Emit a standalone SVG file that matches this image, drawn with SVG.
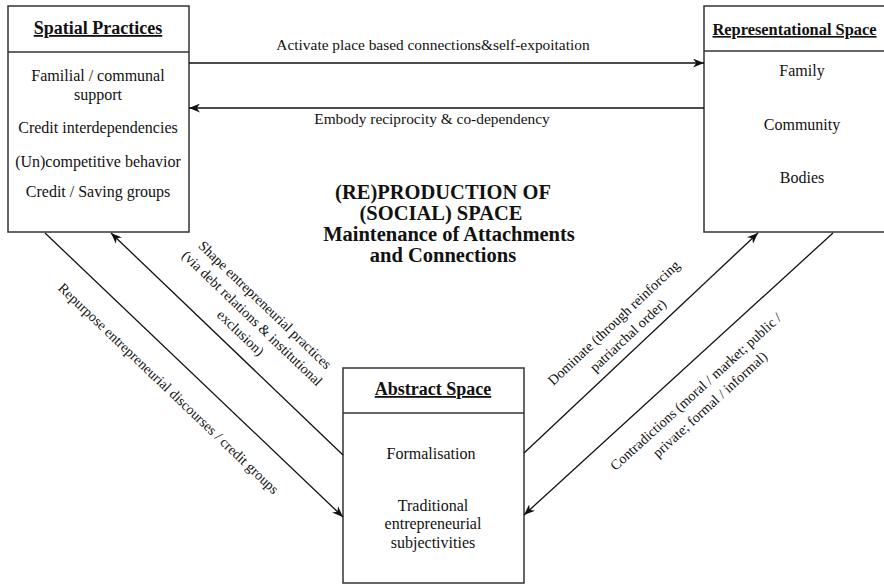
<svg xmlns="http://www.w3.org/2000/svg" width="884" height="585" viewBox="0 0 884 585">
<defs>
<marker id="arr" viewBox="0 0 10 8" markerWidth="11" markerHeight="9" refX="10" refY="4" orient="auto" markerUnits="userSpaceOnUse">
<path d="M0,0 L10,4 L0,8 L3,4 Z" fill="#111"/>
</marker>
</defs>
<style>
text{font-family:"Liberation Serif","Times New Roman",serif;fill:#111}
.box{fill:#fff;stroke:#333;stroke-width:1.5}
.div{stroke:#333;stroke-width:1.5}
.title{font-weight:bold;text-decoration:underline;text-anchor:middle}
.item{font-size:16px;text-anchor:middle}
.lbl{font-size:15.4px;text-anchor:middle}
.dlbl{font-size:14.2px;text-anchor:middle}
.conn{stroke:#111;stroke-width:1.3;fill:none;marker-end:url(#arr)}
.center{font-weight:bold;font-size:20.5px;text-anchor:middle}
</style>
<rect width="884" height="585" fill="#fff"/>

<g id="spatial-practices">
<rect class="box" x="8" y="6" width="181" height="226"/>
<line class="div" x1="8" y1="52" x2="189" y2="52"/>
<text class="title" x="98" y="34" font-size="18">Spatial Practices</text>
<text class="item" x="98" y="81">Familial / communal</text>
<text class="item" x="98" y="99.5">support</text>
<text class="item" x="98" y="133" font-size="15.3">Credit interdependencies</text>
<text class="item" x="98" y="167" font-size="15.3">(Un)competitive behavior</text>
<text class="item" x="98" y="197" font-size="15.3">Credit / Saving groups</text>
</g>

<g id="representational-space">
<rect class="box" x="704" y="6" width="190" height="226"/>
<line class="div" x1="704" y1="51" x2="884" y2="51"/>
<text class="title" x="794.5" y="35" font-size="16.4">Representational Space</text>
<text class="item" x="802" y="76" font-size="16.8">Family</text>
<text class="item" x="802" y="130" font-size="16.8">Community</text>
<text class="item" x="802" y="183" font-size="16.8">Bodies</text>
</g>

<g id="abstract-space">
<rect class="box" x="343" y="368" width="181" height="215"/>
<line class="div" x1="343" y1="413" x2="524" y2="413"/>
<text class="title" x="433" y="395" font-size="18">Abstract Space</text>
<text class="item" x="431" y="459">Formalisation</text>
<text class="item" x="433" y="510.5">Traditional</text>
<text class="item" x="433" y="529">entrepreneurial</text>
<text class="item" x="433" y="547.5">subjectivities</text>
</g>

<g id="center-title">
<text class="center" x="443" y="199">(RE)PRODUCTION OF</text>
<text class="center" x="441" y="220">(SOCIAL) SPACE</text>
<text class="center" x="449" y="241">Maintenance of Attachments</text>
<text class="center" x="443" y="262">and Connections</text>
</g>

<g id="connectors">
<line class="conn" x1="189" y1="63" x2="704" y2="63"/>
<line class="conn" x1="704" y1="108" x2="189" y2="108"/>
<line class="conn" x1="45" y1="233" x2="343" y2="517"/>
<line class="conn" x1="343" y1="455" x2="111" y2="233"/>
<line class="conn" x1="524" y1="453" x2="758" y2="233"/>
<line class="conn" x1="833" y1="233" x2="524" y2="515"/>

<text class="lbl" x="433" y="50">Activate place based connections&amp;self-expoitation</text>
<text class="lbl" x="432" y="124">Embody reciprocity &amp; co-dependency</text>

<text class="dlbl" transform="translate(168,389) rotate(43.6)" y="4">Repurpose entrepreneurial discourses / credit groups</text>
<text class="dlbl" transform="translate(253,320) rotate(43.8)">
<tspan x="0" y="-14.5">Shape entrepreneurial practices</tspan>
<tspan x="0" y="4">(via debt relations &amp; institutional</tspan>
<tspan x="0" y="22.5">exclusion)</tspan>
</text>
<text class="dlbl" transform="translate(622,329) rotate(-43.2)">
<tspan x="0" y="-5.5">Dominate (through reinforcing</tspan>
<tspan x="0" y="13.5">patriarchal order)</tspan>
</text>
<text class="dlbl" transform="translate(704,398) rotate(-42.4)">
<tspan x="0" y="-5.5">Contradictions (moral / market; public /</tspan>
<tspan x="0" y="13.5">private; formal / informal)</tspan>
</text>
</g>
</svg>
